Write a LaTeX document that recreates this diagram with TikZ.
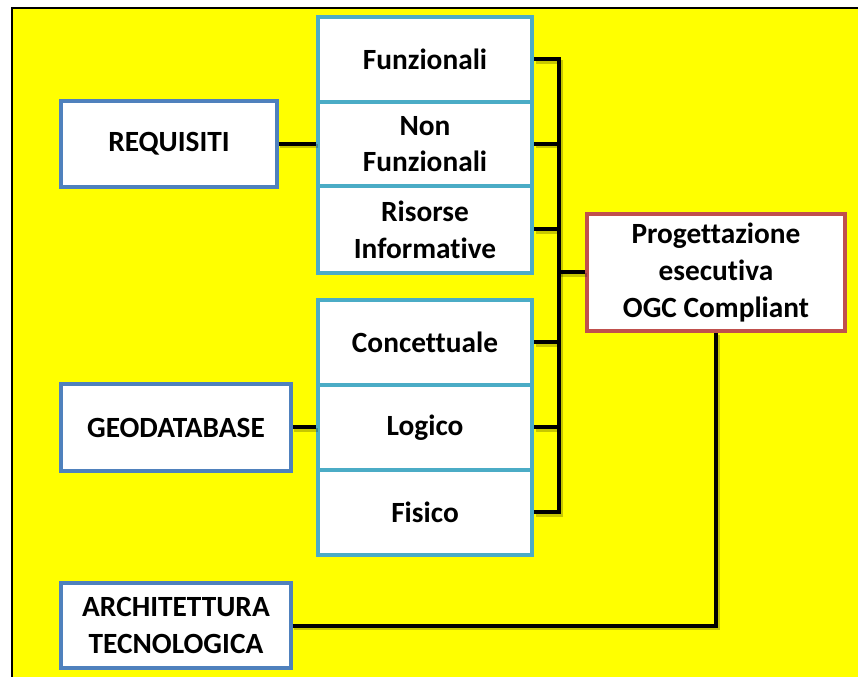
\documentclass[tikz,border=0pt]{standalone}
\usepackage{fontspec}
\setmainfont[Ligatures=NoCommon]{Carlito}
\definecolor{bgyellow}{RGB}{255,255,0}
\definecolor{darkblue}{RGB}{79,129,189}
\definecolor{lightblue}{RGB}{75,172,198}
\definecolor{boxred}{RGB}{192,80,77}
\tikzset{
  basebox/.style={line width=2.8pt, fill=white, inner sep=0pt, align=center,
    font=\fontsize{22}{27.5}\selectfont\bfseries},
  cell/.style={basebox, draw=lightblue, line width=3pt, minimum width=214*0.75pt},
  mainbox/.style={basebox, draw=darkblue},
  targetbox/.style={basebox, draw=boxred},
  conn/.style={line width=3pt, line cap=butt, line join=miter, draw=black,
    preaction={draw=black, opacity=0.22, line width=3pt, transform canvas={shift={(1.2pt,-1.6pt)}}}}
}
\begin{document}
\begin{tikzpicture}[x=0.75pt,y=-0.75pt]
\useasboundingbox (0,0) rectangle (858,677);
\fill[white] (0,0) rectangle (858,677);
\fill[bgyellow] (12,8) rectangle (858,677);
\draw[line width=1.8pt] (12,677) -- (12,8) -- (858,8);

% left boxes
\node[mainbox, minimum width=216*0.75pt, minimum height=86*0.75pt] (req) at (169,144) {REQUISITI};
\node[mainbox, minimum width=230*0.75pt, minimum height=87*0.75pt] (geo) at (176,427.5) {GEODATABASE};
\node[mainbox, minimum width=230*0.75pt, minimum height=85*0.75pt] (arch) at (176,625.5) {ARCHITETTURA\\TECNOLOGICA};

% first column
\node[cell, minimum height=85*0.75pt] (f1) at (425,59.5) {Funzionali};
\node[cell, minimum height=84*0.75pt] (f2) at (425,144) {Non\\Funzionali};
\node[cell, minimum height=87*0.75pt] (f3) at (425,229.5) {Risorse\\Informative};

% second column
\node[cell, minimum height=85*0.75pt] (g1) at (425,342.5) {Concettuale};
\node[cell, minimum height=85*0.75pt] (g2) at (425,427.5) {Logico};
\node[cell, minimum height=85*0.75pt] (g3) at (425,512.5) {Fisico};

% target
\node[targetbox, minimum width=258*0.75pt, minimum height=117*0.75pt] (prog) at (716,272.5) {Progettazione\\esecutiva\\OGC Compliant};

\coordinate (bx) at (559,0);

% connectors
\draw[conn] (req.east) -- (f2.west);
\draw[conn] (geo.east) -- (g2.west);
\draw[conn] (f1.east) -- (f1.east -| bx) -- (g3.east -| bx) -- (g3.east);
\draw[conn] (f2.east) -- (f2.east -| bx);
\draw[conn] (f3.east) -- (f3.east -| bx);
\draw[conn] (g1.east) -- (g1.east -| bx);
\draw[conn] (g2.east) -- (g2.east -| bx);
\draw[conn] (prog.west -| bx) -- (prog.west);
\draw[conn] (arch.east) -| (prog.south);
\end{tikzpicture}
\end{document}
